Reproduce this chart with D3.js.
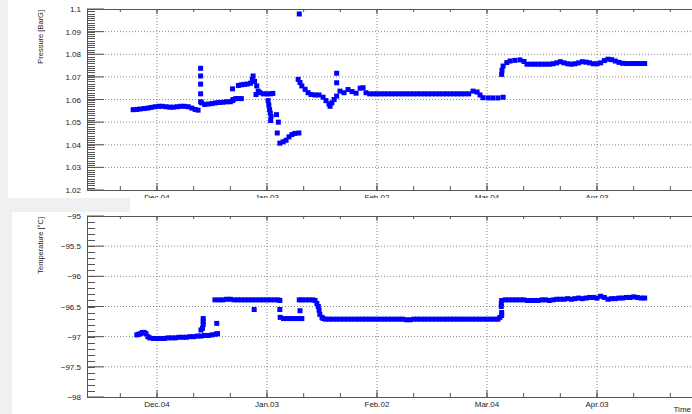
<!DOCTYPE html>
<html>
<head>
<meta charset="utf-8">
<script src="https://cdn.jsdelivr.net/npm/d3@7"></script>
<style>
  body { margin: 0; background: #f0f0f0; }
  svg { display: block; font-family: "Liberation Sans", Arial, sans-serif; }
  .frame { fill: none; stroke: #555; stroke-width: 1; }
  .tick { stroke: #555; stroke-width: 1; }
  .grid { stroke: #888; stroke-width: 1; stroke-dasharray: 1,2; }
  .lbl { font-size: 8px; fill: #222; }
</style>
</head>
<body>
<script>
//data: [days from Dec.04, value]
var pressurePts = [
  [-6.5,1.0555],[-5.5,1.0556],[-4.6,1.0558],[-3.5,1.056],[-2.5,1.0562],[-1.6,1.0565],[-0.5,1.0568],
  [0.5,1.057],[1.4,1.057],[2.5,1.0568],[3.5,1.0566],[4.4,1.0566],[5.5,1.0568],[6.5,1.057],[7.4,1.057],
  [8.5,1.0568],[9.5,1.0562],[10.4,1.0556],[11.2,1.0553],
  [11.9,1.0738],[11.9,1.0704],[11.9,1.0668],[11.9,1.0625],[11.9,1.059],
  [12.2,1.0585],[13,1.0578],[14,1.058],[15,1.0582],[16,1.0585],[17,1.0587],[18,1.0588],[19,1.059],
  [20,1.059],[20.6,1.0595],[20.6,1.0647],[20.8,1.06],[21.5,1.0604],[22.3,1.0604],[23,1.0604],
  [22.2,1.0662],[23,1.0665],[23.8,1.0667],[24.6,1.0668],[25.5,1.0672],[26,1.0688],[26.2,1.0704],
  [26.6,1.068],[27.2,1.066],[27.6,1.0637],[27,1.0622],
  [28.1,1.063],[29,1.0625],[30,1.0625],[31,1.0625],[31.6,1.0627],
  [30.3,1.0595],[30.5,1.0575],[30.7,1.0555],[30.9,1.054],[31.1,1.0525],[31.0,1.0507],[33.1,1.05],[32.6,1.0533],
  [32.8,1.0452],[33.5,1.0407],[34.4,1.0413],[35.2,1.042],[36,1.0435],[36.8,1.0445],[37.6,1.045],[38.7,1.0452],
  [38.8,1.0978],
  [38.5,1.0689],[39,1.0675],[39.5,1.066],[40.4,1.0645],[41.2,1.063],[42,1.0622],[43.1,1.062],[44.2,1.062],
  [45.3,1.061],[46.1,1.0595],[46.9,1.058],[47.2,1.057],[47.7,1.0585],[48.3,1.06],[49,1.0615],[49,1.0716],
  [49,1.0674],[49.9,1.0637],[51,1.063],[52.1,1.0644],[53.2,1.0635],[54.3,1.0628],[55.4,1.065],[56.2,1.0652],
  [57,1.063],
  [58,1.0625],[59,1.0625],[60,1.0625],[61,1.0625],[62,1.0625],[63,1.0625],[64,1.0625],[65,1.0625],
  [66,1.0625],[67,1.0625],[68,1.0625],[69,1.0625],[70,1.0625],[71,1.0625],[72,1.0625],[73,1.0625],
  [74,1.0625],[75,1.0625],[76,1.0625],[77,1.0625],[78,1.0625],[79,1.0625],[80,1.0625],[81,1.0625],
  [82,1.0625],[83,1.0625],[84,1.0625],[85,1.0625],
  [86.2,1.0637],[87.3,1.0633],[88.1,1.062],[88.9,1.0608],[90.3,1.0607],[91.6,1.0607],[93,1.0607],[94.4,1.061],
  [94,1.0711],[94.1,1.073],[94.4,1.0748],[95.4,1.0763],[96.3,1.077],[97.6,1.0773],[99,1.0775],[100.1,1.0768],
  [100.9,1.0756],[102,1.0756],[103,1.0756],[104,1.0756],[105,1.0756],[106,1.0756],[107,1.0756],[108,1.0758],
  [109,1.0762],[110,1.0767],[111,1.0762],[112,1.0758],[113,1.0756],[114,1.0758],[115,1.0762],[116,1.0767],
  [117,1.0765],[118,1.0762],[119,1.0758],[120,1.0758],[121,1.0762],[122,1.0772],[123,1.0778],[124,1.0776],
  [125,1.077],[126,1.0764],[127,1.076],[128,1.0759],[129,1.0759],[130,1.0759],[131,1.0759],[132,1.0759],
  [133,1.0759]
];

var temperaturePts = [
  [-5.5,-96.97],[-5,-96.96],[-4.5,-96.95],[-4,-96.93],[-3.5,-96.93],[-3,-96.95],[-2.5,-97.0],[-2,-97.02],
  [-1,-97.03],[0,-97.03],[1,-97.03],[2,-97.03],[3,-97.02],[4,-97.02],[5,-97.02],[6,-97.01],[7,-97.01],
  [8,-97.01],[9,-97.0],[10,-97.0],[11,-96.99],[12,-96.99],[13,-96.98],[14,-96.98],[15,-96.97],[16,-96.96],
  [16.5,-96.95],
  [12.6,-96.7],[12.6,-96.75],[12.6,-96.8],[12.4,-96.86],[12,-96.89],[16.3,-96.78],
  [15.8,-96.39],[17,-96.39],[18,-96.39],[19,-96.38],[20,-96.38],[21,-96.39],[22,-96.39],[23,-96.39],
  [24,-96.39],[25,-96.39],[26,-96.39],[27,-96.39],[28,-96.39],[29,-96.39],[30,-96.39],[31,-96.39],
  [32,-96.39],[33,-96.39],[33.5,-96.4],
  [26.5,-96.55],[33.5,-96.55],[39,-96.57],
  [33.6,-96.68],[34.5,-96.7],[35.5,-96.7],[36.5,-96.7],[37.5,-96.7],[38.5,-96.7],[39.5,-96.7],
  [38.8,-96.39],[39.5,-96.39],[40.5,-96.39],[41.5,-96.39],[42.5,-96.39],[43.1,-96.4],[43.6,-96.45],
  [44,-96.5],[44.2,-96.56],[44.4,-96.63],[45,-96.68],[45.3,-96.7],
  [46,-96.71],[47,-96.71],[48,-96.71],[49,-96.71],[50,-96.71],[51,-96.71],[52,-96.71],[53,-96.71],
  [54,-96.71],[55,-96.71],[56,-96.71],[57,-96.71],[58,-96.71],[59,-96.71],[60,-96.71],[61,-96.71],
  [62,-96.71],[63,-96.71],[64,-96.71],[65,-96.71],[66,-96.71],[67,-96.71],[68,-96.72],[69,-96.72],
  [70,-96.71],[71,-96.71],[72,-96.71],[73,-96.71],[74,-96.71],[75,-96.71],[76,-96.71],[77,-96.71],
  [78,-96.71],[79,-96.71],[80,-96.71],[81,-96.71],[82,-96.71],[83,-96.71],[84,-96.71],[85,-96.71],
  [86,-96.71],[87,-96.71],[88,-96.71],[89,-96.71],[90,-96.71],[91,-96.71],[92,-96.71],[93,-96.71],
  [93.5,-96.68],[94,-96.65],[94,-96.6],[93.9,-96.5],[93.9,-96.45],
  [94,-96.4],[95,-96.39],[96,-96.39],[97,-96.39],[98,-96.39],[99,-96.39],[100,-96.39],[101,-96.4],
  [102,-96.4],[103,-96.4],[104,-96.4],[105,-96.39],[106,-96.39],[107,-96.4],[108,-96.39],[109,-96.38],
  [110,-96.38],[111,-96.38],[112,-96.37],[113,-96.38],[114,-96.37],[115,-96.36],[116,-96.37],[117,-96.36],
  [118,-96.35],[119,-96.35],[120,-96.36],[121,-96.33],[122,-96.35],[123,-96.38],[124,-96.37],[125,-96.37],
  [126,-96.36],[127,-96.36],[128,-96.35],[129,-96.35],[130,-96.34],[131,-96.35],[132,-96.36],[133,-96.36]
];

//axis labels
var majorDates = ["2022-12-04", "2023-01-03", "2023-02-02", "2023-03-04", "2023-04-03"];
var majorLabels = ["Dec.04", "Jan.03", "Feb.02", "Mar.04", "Apr.03"];
var pressureTicks = [1.02, 1.03, 1.04, 1.05, 1.06, 1.07, 1.08, 1.09, 1.1];
var temperatureTicks = [-98, -97.5, -97, -96.5, -96, -95.5, -95];

window.onload = drawChart();

function drawChart(){
    var width = 692,
        height = 414;

    var svg = d3.select("body")
        .append("svg")
        .attr("width", width)
        .attr("height", height);

    var baseDate = new Date(2022, 11, 4);
    function toDate(d){ return new Date(baseDate.getTime() + d * 864e5); }

    //time axis shared by both pads
    var x = d3.scaleTime()
        .domain([toDate(-19.09), toDate(147)])
        .range([87, 696]);

    var minorDates = d3.range(0, 16).map(function(i){ return toDate(-10 + 10 * i); });
    var majors = majorDates.map(function(s){ return d3.timeParse("%Y-%m-%d")(s); });

    //pads
    svg.append("rect").attr("x", 8).attr("y", 0).attr("width", 684).attr("height", 198).attr("fill", "#fff");

    var yP = d3.scaleLinear().domain([1.02, 1.1]).range([190, 9]);
    drawPad(yP, pressureTicks, 0.001, "Pressure [BarG]", pressurePts, function(v){ return String(+v.toFixed(2)); });

    svg.append("rect").attr("x", 0).attr("y", 198).attr("width", 130).attr("height", 14).attr("fill", "#f0f0f0");
    svg.append("rect").attr("x", 130).attr("y", 198).attr("width", 562).attr("height", 14).attr("fill", "#fff");
    svg.append("rect").attr("x", 12).attr("y", 212).attr("width", 680).attr("height", 202).attr("fill", "#fff");

    var yT = d3.scaleLinear().domain([-98, -95]).range([397, 216]);
    drawPad(yT, temperatureTicks, 0.1, "Temperature [\u00b0C]", temperaturePts, function(v){ return String(v).replace("-", "\u2212"); });

    svg.append("text")
        .attr("class", "lbl")
        .attr("x", 691)
        .attr("y", 412)
        .attr("text-anchor", "end")
        .text("Time");

    function drawPad(y, ticks, minorStep, title, pts, fmt){
        var g = svg.append("g");
        var y0 = y.range()[0], y1 = y.range()[1];
        var x0 = x.range()[0], x1 = x.range()[1];
        var lo = y.domain()[0], hi = y.domain()[1];

        //grid
        g.selectAll(".gx").data(majors).enter().append("line")
            .attr("class", "grid")
            .attr("x1", function(d){ return x(d); }).attr("x2", function(d){ return x(d); })
            .attr("y1", y0).attr("y2", y1);
        g.selectAll(".gy").data(ticks.slice(1, -1)).enter().append("line")
            .attr("class", "grid")
            .attr("x1", x0).attr("x2", x1)
            .attr("y1", function(d){ return y(d); }).attr("y2", function(d){ return y(d); });

        //y ticks
        var nMinor = Math.round((hi - lo) / minorStep);
        var minors = d3.range(0, nMinor + 1).map(function(i){ return lo + i * minorStep; });
        g.selectAll(".ym").data(minors).enter().append("line")
            .attr("class", "tick")
            .attr("x1", x0).attr("x2", x0 + 8)
            .attr("y1", function(d){ return Math.round(y(d)) + 0.5; })
            .attr("y2", function(d){ return Math.round(y(d)) + 0.5; });
        g.selectAll(".yM").data(ticks).enter().append("line")
            .attr("class", "tick")
            .attr("x1", x0).attr("x2", x0 + 17)
            .attr("y1", function(d){ return y(d); }).attr("y2", function(d){ return y(d); });
        g.selectAll(".yl").data(ticks).enter().append("text")
            .attr("class", "lbl")
            .attr("x", 81)
            .attr("y", function(d){ return y(d) + 3; })
            .attr("text-anchor", "end")
            .text(fmt);

        //x ticks, bottom and top
        g.selectAll(".xm").data(minorDates).enter().append("line")
            .attr("class", "tick")
            .attr("x1", function(d){ return x(d); }).attr("x2", function(d){ return x(d); })
            .attr("y1", y0).attr("y2", y0 - 4);
        g.selectAll(".xmt").data(minorDates).enter().append("line")
            .attr("class", "tick")
            .attr("x1", function(d){ return x(d); }).attr("x2", function(d){ return x(d); })
            .attr("y1", y1).attr("y2", y1 + 3);
        g.selectAll(".xM").data(majors).enter().append("line")
            .attr("class", "tick")
            .attr("x1", function(d){ return x(d); }).attr("x2", function(d){ return x(d); })
            .attr("y1", y0).attr("y2", y0 - 7);
        g.selectAll(".xMt").data(majors).enter().append("line")
            .attr("class", "tick")
            .attr("x1", function(d){ return x(d); }).attr("x2", function(d){ return x(d); })
            .attr("y1", y1).attr("y2", y1 + 5);
        g.selectAll(".xl").data(majors).enter().append("text")
            .attr("class", "lbl")
            .attr("x", function(d){ return x(d); })
            .attr("y", y0 + 10)
            .attr("text-anchor", "middle")
            .text(function(d, i){ return majorLabels[i]; });

        //frame
        g.append("rect")
            .attr("class", "frame")
            .attr("x", x0 + 0.5).attr("y", y1 + 0.5)
            .attr("width", x1 - x0).attr("height", y0 - y1);

        //axis title
        g.append("text")
            .attr("class", "lbl")
            .style("font-size", "7.5px")
            .attr("transform", "translate(43," + (y1 + 1) + ") rotate(-90)")
            .attr("text-anchor", "end")
            .text(title);

        //markers
        g.selectAll(".pt").data(pts).enter().append("rect")
            .attr("x", function(d){ return x(toDate(d[0])) - 2.5; })
            .attr("y", function(d){ return y(d[1]) - 2.5; })
            .attr("width", 5).attr("height", 5)
            .attr("fill", "#0000ff");
    }
}
</script>
</body>
</html>
